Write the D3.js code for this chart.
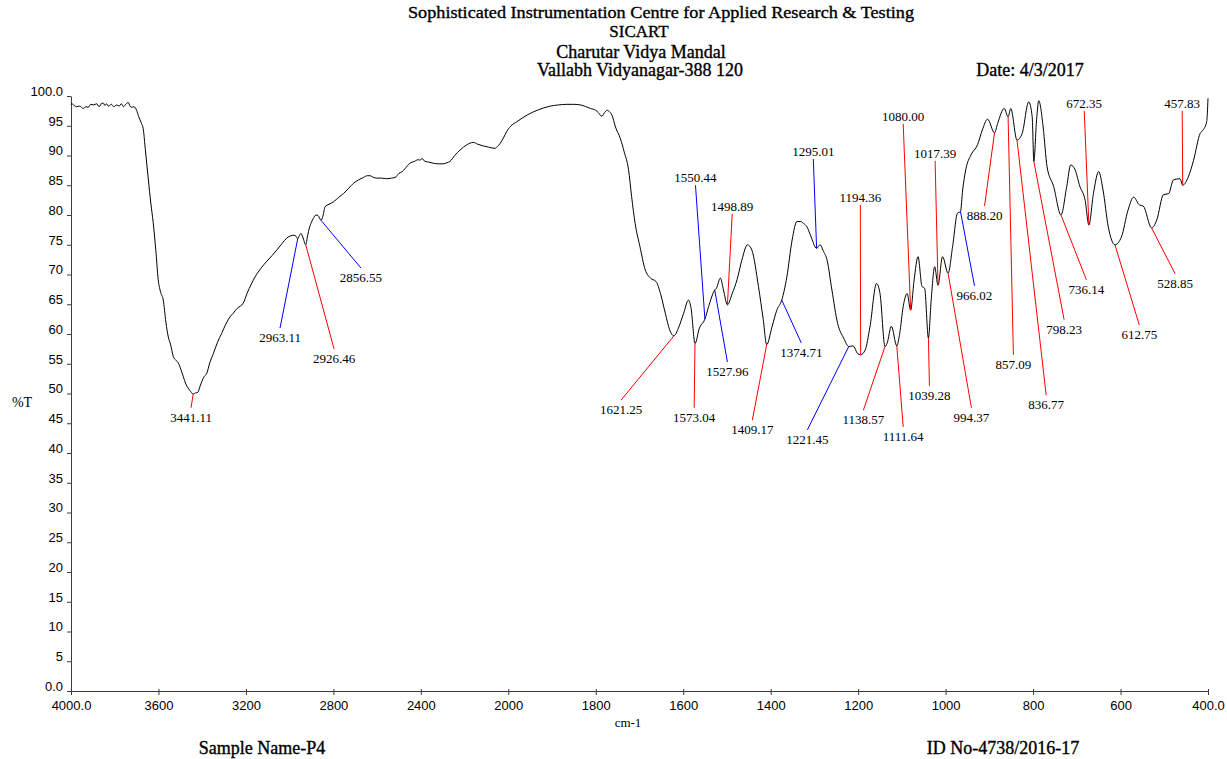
<!DOCTYPE html>
<html>
<head>
<meta charset="utf-8">
<script src="https://cdn.jsdelivr.net/npm/d3@7"></script>
<style>
  html, body { margin: 0; padding: 0; background: #fff; }
  svg { display: block; }
</style>
</head>
<body>
<svg id="chart" width="1227" height="759"></svg>
<script>
// FT-IR spectrum: wavenumber (cm-1) and transmittance (%T)
const wavenumbers = [
  4000, 3997, 3985, 3974, 3960, 3944, 3932, 3921, 3910, 3898, 3882, 3875, 3867, 3860, 3852, 3845, 3837, 3829,
  3815, 3805, 3791, 3780, 3770, 3760, 3750, 3738, 3730, 3722, 3712, 3700, 3690, 3680, 3669, 3660, 3646, 3635,
  3624, 3612, 3601, 3590, 3578, 3566, 3555, 3545, 3532, 3520, 3509, 3497, 3486, 3475, 3464, 3452, 3441.11,
  3430, 3420, 3410, 3402, 3390, 3379, 3365, 3349, 3330, 3311, 3290, 3270, 3258, 3240, 3212, 3195, 3175, 3158,
  3130, 3105, 3080, 3059, 3035, 3014, 2995, 2980, 2970, 2963.11, 2955, 2948, 2940, 2926.46, 2918, 2910, 2900,
  2892, 2880, 2870, 2856.55, 2848, 2838, 2820, 2800, 2775, 2754, 2730, 2709, 2685, 2663, 2645, 2633, 2615,
  2602, 2580, 2556, 2535, 2518, 2500, 2485, 2472, 2450, 2430, 2412, 2404, 2395, 2381, 2365, 2343, 2320, 2297,
  2280, 2267, 2245, 2221, 2190, 2160, 2140, 2114, 2090, 2061, 2050, 2038, 2020, 2008, 1995, 1980, 1957, 1934,
  1904, 1885, 1866, 1850, 1835, 1812, 1800, 1794, 1786, 1780, 1774, 1768, 1763, 1755, 1744, 1735, 1725, 1718,
  1710, 1699, 1687, 1675, 1662, 1652, 1641, 1631, 1621.25, 1611, 1599, 1588, 1582, 1573.04, 1563, 1550.44,
  1542, 1527.96, 1524, 1515, 1508, 1498.89, 1488, 1477, 1466, 1453, 1443, 1428, 1417, 1409.17, 1397, 1386,
  1374.71, 1363, 1351, 1340, 1332, 1325, 1317, 1309, 1295.01, 1287, 1280, 1271, 1260, 1247, 1233, 1221.45,
  1212, 1201, 1194.36, 1184, 1173, 1158, 1150, 1138.57, 1134, 1124, 1111.64, 1105, 1097, 1088, 1080.00, 1072,
  1063, 1054, 1048, 1039.28, 1033, 1025, 1017.39, 1007, 994.37, 984, 973, 966.02, 961, 954, 942, 927, 916,
  904, 888.20, 881, 866, 857.09, 851, 836.77, 825, 810, 802, 798.23, 792, 787, 777, 768, 753, 736.14, 723,
  714, 704, 693, 681, 672.35, 662, 650, 640, 628, 612.75, 598, 583, 570, 557, 548, 528.85, 517, 502, 490, 479,
  464, 457.83, 445, 433, 418, 411, 403, 400
];
const transmittance = [
  98.6, 98.7, 98.4, 98.2, 98.3, 97.9, 98.2, 98.1, 98.6, 98.5, 98.7, 98.3, 98.3, 98.8, 98.8, 98.4, 98.7, 98.3,
  98.6, 98.2, 98.5, 98.3, 98.7, 98.2, 98.6, 98.9, 98.3, 98.1, 98.2, 97.6, 96.5, 95.6, 94.3, 91.0, 85.9, 82.0,
  78.7, 74.0, 69.1, 67.0, 65.7, 62.0, 59.5, 58.3, 56.2, 55.6, 55.1, 54.0, 52.8, 51.6, 50.9, 50.3, 49.9,
  50.1, 50.2, 51.2, 52.0, 52.9, 53.4, 55.2, 56.7, 58.6, 60.1, 61.8, 63.0, 63.5, 64.3, 65.2, 66.8, 68.4, 69.6,
  71.1, 72.2, 73.2, 74.1, 75.2, 76.1, 76.5, 76.6, 76.4, 76.0, 76.6, 76.9, 76.3, 75.0, 76.5, 77.8, 78.8,
  79.4, 80.0, 79.9, 79.1, 79.8, 81.4, 81.8, 82.2, 83.0, 83.6, 84.5, 85.3, 85.9, 86.3, 86.6, 86.6, 86.3,
  86.2, 86.2, 86.1, 86.2, 86.3, 87.0, 87.3, 87.8, 88.7, 89.0, 89.3, 89.2, 89.5, 89.0, 88.9, 88.7, 88.6, 88.6,
  88.8, 89.0, 90.0, 90.9, 91.8, 92.2, 91.9, 91.6, 91.4, 91.2, 91.5, 92.0, 93.1, 94.0, 94.9, 95.7, 96.8, 97.6,
  98.3, 98.5, 98.6, 98.6, 98.5, 97.9, 97.6, 97.2, 96.6, 97.2, 97.6, 97.3, 96.8, 94.8, 92.9, 90.6, 87.6, 83.1,
  78.6, 74.7, 70.8, 69.4, 68.8, 66.8, 63.5, 60.7, 59.7, 61.0, 63.5, 65.7, 64.3, 58.4, 61.0, 62.5,
  64.6, 67.4, 67.7, 69.4, 67.4, 64.9, 66.8, 69.1, 72.4, 75.0, 74.1, 68.0, 62.4, 58.2, 61.2, 64.0,
  65.7, 69.6, 75.8, 78.9, 78.9, 78.6, 78.0, 76.6, 74.4, 75.0, 74.0, 72.4, 67.4, 61.8, 59.3, 57.9,
  58.0, 56.7, 56.5, 57.3, 61.2, 68.5, 66.8, 57.9, 58.4, 61.3, 58.0, 60.1, 64.6, 66.8, 64.0, 69.1,
  73.0, 68.0, 67.7, 59.3, 65.7, 71.3, 68.2, 73.0, 70.2, 74.7, 80.3, 80.6, 84.2, 87.6, 90.1, 91.8, 94.3,
  96.1, 93.8, 95.4, 97.9, 96.5, 97.9, 92.6, 93.7, 99.0, 96.5, 89.0, 96.0, 99.2, 94.8, 88.1, 84.8, 80.0, 84.8,
  88.4, 87.6, 84.8, 82.5, 78.3, 83.6, 87.3, 84.2, 78.0, 75.0, 76.3, 80.8, 83.0, 81.7, 81.5, 77.8, 79.2, 83.4, 83.6, 85.9,
  86.1, 85.0, 86.4, 89.2, 93.7, 94.3, 95.7, 99.6
];

// Picked peaks and the colour group of each label
const peakWavenumbers = [
  3441.11, 2963.11, 2926.46, 2856.55, 1621.25, 1573.04, 1550.44, 1527.96, 1498.89, 1409.17, 1374.71,
  1295.01, 1221.45, 1194.36, 1138.57, 1111.64, 1080.00, 1039.28, 1017.39, 994.37, 966.02, 888.20,
  857.09, 836.77, 798.23, 736.14, 672.35, 612.75, 528.85, 457.83
];
const peakLabels = [
  "3441.11", "2963.11", "2926.46", "2856.55", "1621.25", "1573.04", "1550.44", "1527.96", "1498.89",
  "1409.17", "1374.71", "1295.01", "1221.45", "1194.36", "1138.57", "1111.64", "1080.00", "1039.28",
  "1017.39", "994.37", "966.02", "888.20", "857.09", "836.77", "798.23", "736.14", "672.35", "612.75",
  "528.85", "457.83"
];
const peakGroups = [
  "r", "b", "r", "b", "r", "r", "b", "b", "r", "r", "b", "b", "b", "r", "r", "r", "r", "r", "r", "r", "b", "r",
  "r", "r", "r", "r", "r", "r", "r", "r"
];

// Axis ticks
const xTickValues = [4000, 3600, 3200, 2800, 2400, 2000, 1800, 1600, 1400, 1200, 1000, 800, 600, 400];
const xTickLabels = ["4000.0", "3600", "3200", "2800", "2400", "2000", "1800", "1600", "1400", "1200", "1000", "800", "600", "400.0"];
const yTickValues = [0, 5, 10, 15, 20, 25, 30, 35, 40, 45, 50, 55, 60, 65, 70, 75, 80, 85, 90, 95, 100];
const yTickLabels = ["0.0", "5", "10", "15", "20", "25", "30", "35", "40", "45", "50", "55", "60", "65", "70", "75", "80", "85", "90", "95", "100.0"];

// Where each peak label sits (end of its leader line, in axis units) and whether the text hangs below it
const labelAnchors = [
  [3451, 47.6, "below"], [3044, 61.0, "below"], [2797, 57.5, "below"], [2674, 71.1, "below"],
  [1742, 48.9, "below"], [1575, 47.6, "below"], [1572, 85.0, "above"], [1499, 55.3, "below"],
  [1488, 80.2, "above"], [1442, 45.5, "below"], [1330, 58.5, "below"], [1302.5, 89.4, "above"],
  [1316, 43.9, "below"], [1195, 81.7, "above"], [1188, 47.2, "below"], [1097, 44.4, "below"],
  [1097, 95.3, "above"], [1037, 51.3, "below"], [1024, 89.1, "above"], [941, 47.6, "below"],
  [934, 68.1, "below"], [911, 81.5, "below"], [845, 56.5, "below"], [770, 49.7, "below"],
  [729, 62.4, "below"], [678, 69.1, "below"], [683, 97.5, "above"], [557, 61.5, "below"],
  [475, 70.1, "below"], [459, 97.5, "above"]
];

const svg = d3.select("#chart");
const serif = "'Liberation Serif', 'Times New Roman', serif";
const sans = "'Liberation Sans', Arial, sans-serif";

// Wavenumber axis is expanded below 2000 cm-1
const x = d3.scaleLinear().domain([4000, 2000, 400]).range([71, 508.3, 1208]);
const y = d3.scaleLinear().domain([0, 100]).range([691, 96]);

const spectrum = wavenumbers.map((w, i) => ({ w, t: transmittance[i] }));
const tAt = w => transmittance[wavenumbers.indexOf(w)];

// Header
const header = svg.append("g").attr("font-family", serif)
  .attr("font-size", 18).attr("fill", "#000").attr("stroke", "#000").attr("stroke-width", 0.35);
header.append("text").attr("x", 661).attr("y", 18).attr("text-anchor", "middle")
  .attr("font-size", 17).attr("textLength", 506).attr("lengthAdjust", "spacingAndGlyphs")
  .text("Sophisticated Instrumentation Centre for Applied Research & Testing");
header.append("text").attr("x", 639).attr("y", 37).attr("text-anchor", "middle")
  .attr("font-size", 17).text("SICART");
header.append("text").attr("x", 641).attr("y", 58).attr("text-anchor", "middle").text("Charutar Vidya Mandal");
header.append("text").attr("x", 640).attr("y", 76).attr("text-anchor", "middle").text("Vallabh Vidyanagar-388 120");
header.append("text").attr("x", 1030).attr("y", 76).attr("text-anchor", "middle").text("Date: 4/3/2017");

// Axes
const axisColor = "#3c3c3c";
const gx = svg.append("g").attr("transform", `translate(0,${y(0)})`)
  .call(d3.axisBottom(x).tickValues(xTickValues)
    .tickFormat((d, i) => xTickLabels[i]).tickSize(4).tickSizeOuter(0).tickPadding(6));
const gy = svg.append("g").attr("transform", `translate(${x(4000)},0)`)
  .call(d3.axisLeft(y).tickValues(yTickValues)
    .tickFormat((d, i) => yTickLabels[i]).tickSize(4).tickSizeOuter(0).tickPadding(4));
[gx, gy].forEach(g => {
  g.select(".domain").attr("stroke", axisColor);
  g.selectAll(".tick line").attr("stroke", axisColor);
  g.selectAll(".tick text").attr("font-family", sans).attr("font-size", 13).attr("fill", "#000");
});
gy.selectAll(".tick text").attr("dy", "-0.05em");
gx.selectAll(".tick line").attr("y1", -2);

svg.append("text").attr("x", 22).attr("y", 407).attr("text-anchor", "middle")
  .attr("font-family", serif).attr("font-size", 14).text("%T");
svg.append("text").attr("x", 628).attr("y", 727).attr("text-anchor", "middle")
  .attr("font-family", serif).attr("font-size", 13).text("cm-1");

// Footer
const footer = svg.append("g").attr("font-family", serif).attr("font-size", 18)
  .attr("fill", "#000").attr("stroke", "#000").attr("stroke-width", 0.35);
footer.append("text").attr("x", 262).attr("y", 754).attr("text-anchor", "middle").text("Sample Name-P4");
footer.append("text").attr("x", 1003).attr("y", 754).attr("text-anchor", "middle").text("ID No-4738/2016-17");

// Spectrum trace
svg.append("path").datum(spectrum)
  .attr("fill", "none").attr("stroke", "#000").attr("stroke-width", 1)
  .attr("d", d3.line().x(d => x(d.w)).y(d => y(d.t)).curve(d3.curveMonotoneX));

// Peak labels with leader lines
const groupColor = { r: "#ff0000", b: "#0000ff" };
const peaks = peakWavenumbers.map((w, i) => ({
  w, t: tAt(w), label: peakLabels[i], color: groupColor[peakGroups[i]],
  lw: labelAnchors[i][0], lt: labelAnchors[i][1], side: labelAnchors[i][2]
}));
const pg = svg.append("g");
pg.selectAll("line").data(peaks).join("line")
  .attr("x1", d => x(d.w)).attr("y1", d => y(d.t))
  .attr("x2", d => x(d.lw)).attr("y2", d => y(d.lt))
  .attr("stroke", d => d.color).attr("stroke-width", 1);
pg.selectAll("text").data(peaks).join("text")
  .attr("x", d => x(d.lw)).attr("y", d => y(d.lt) + (d.side === "below" ? 14 : -3))
  .attr("text-anchor", "middle").attr("font-family", serif).attr("font-size", 13)
  .attr("fill", "#000").text(d => d.label);
</script>
</body>
</html>
